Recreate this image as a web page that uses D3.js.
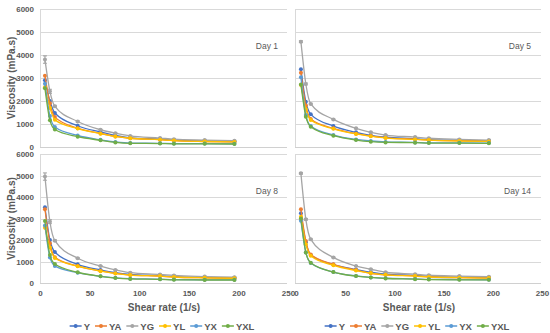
<!DOCTYPE html>
<html>
<head>
<meta charset="utf-8">
<script src="https://cdnjs.cloudflare.com/ajax/libs/d3/7.8.5/d3.min.js"></script>
<style>
  body { margin: 0; background: #fff; }
  svg { display: block; font-family: "Liberation Sans", Arial, sans-serif; }
</style>
</head>
<body>
<div class="container"></div>
<script>
// shear rate (1/s) of each measurement
const shearRates = [5, 10, 15, 38, 61, 76, 91, 121, 135, 166, 196];
const seriesNames = ['Y', 'YA', 'YG', 'YL', 'YX', 'YXL'];
const seriesColors = ['#4472C4', '#ED7D31', '#A5A5A5', '#FFC000', '#5B9BD5', '#70AD47'];
const dayLabels = ['Day 1', 'Day 5', 'Day 8', 'Day 14'];
const yTicks = [0, 1000, 2000, 3000, 4000, 5000, 6000];
const xTicks = [0, 50, 100, 150, 200, 250];

// viscosity (mPa.s), one row per series in seriesNames order
const day1 = [
  [2900, 2000, 1480, 925, 650, 500, 400, 340, 300, 260, 240],
  [3100, 1900, 1300, 820, 590, 460, 380, 320, 280, 240, 220],
  [3800, 2420, 1770, 1110, 750, 600, 480, 390, 340, 300, 270],
  [2600, 1700, 1180, 800, 580, 460, 380, 320, 280, 240, 220],
  [2750, 1350, 870, 500, 310, 220, 170, 160, 150, 150, 140],
  [2550, 1160, 760, 450, 290, 200, 160, 150, 140, 140, 130]
];
const day5 = [
  [3380, 1970, 1420, 910, 640, 510, 430, 360, 320, 290, 270],
  [3230, 1800, 1220, 810, 580, 480, 400, 340, 300, 270, 250],
  [4580, 2740, 1870, 1200, 810, 640, 520, 430, 380, 330, 300],
  [2700, 1650, 1170, 790, 570, 470, 390, 330, 300, 260, 240],
  [3030, 1390, 910, 520, 330, 260, 220, 200, 180, 180, 170],
  [2720, 1320, 880, 490, 300, 230, 200, 190, 170, 170, 160]
];
const day8 = [
  [3520, 2000, 1440, 870, 610, 480, 400, 340, 300, 260, 240],
  [3430, 1850, 1200, 790, 560, 450, 370, 320, 280, 240, 220],
  [4950, 2850, 1970, 1150, 790, 610, 480, 400, 350, 300, 270],
  [2570, 1650, 1160, 780, 550, 440, 370, 320, 280, 240, 220],
  [2680, 1190, 790, 480, 310, 240, 200, 180, 160, 150, 150],
  [2880, 1300, 880, 500, 310, 230, 190, 170, 150, 140, 140]
];
const day14 = [
  [3240, 1900, 1300, 860, 630, 500, 410, 350, 310, 270, 250],
  [3430, 1950, 1330, 870, 600, 450, 380, 330, 290, 250, 230],
  [5100, 2960, 2030, 1190, 790, 640, 500, 410, 360, 320, 290],
  [3080, 1800, 1270, 820, 580, 460, 380, 320, 280, 250, 230],
  [2900, 1420, 930, 510, 330, 260, 220, 190, 170, 160, 150],
  [3000, 1420, 940, 510, 320, 260, 210, 180, 160, 150, 150]
];
// error bar half-heights for the YG series (first points only visible)
const ygError1 = [160, 90, 40, 30, 20, 20, 20, 20, 20, 20, 20];
const ygError5 = [40, 40, 30, 20, 20, 20, 20, 20, 20, 20, 20];
const ygError8 = [170, 90, 40, 30, 20, 20, 20, 20, 20, 20, 20];
const ygError14 = [40, 40, 30, 20, 20, 20, 20, 20, 20, 20, 20];

const width = 550;
const height = 333;

const panels = [
  { data: day1, err: ygError1, label: dayLabels[0], x0: 40, x1: 288, gx0: 40, gx1: 287, top: 9, bottom: 147, yLabels: true, xLabels: false },
  { data: day5, err: ygError5, label: dayLabels[1], x0: 296, x1: 542, gx0: 295, gx1: 541, top: 9, bottom: 147, yLabels: false, xLabels: false },
  { data: day8, err: ygError8, label: dayLabels[2], x0: 40, x1: 288, gx0: 40, gx1: 287, top: 154, bottom: 283, yLabels: true, xLabels: true },
  { data: day14, err: ygError14, label: dayLabels[3], x0: 296, x1: 542, gx0: 295, gx1: 541, top: 154, bottom: 283, yLabels: false, xLabels: true }
];

const svg = d3.select('.container')
  .append('svg')
  .attr('width', width)
  .attr('height', height);

svg.append('rect')
  .attr('width', width)
  .attr('height', height)
  .attr('fill', '#fff');

panels.forEach(p => {
  const xScale = d3.scaleLinear().domain([0, 250]).range([p.x0, p.x1]);
  const yScale = d3.scaleLinear().domain([0, 6000]).range([p.bottom, p.top]);

  const g = svg.append('g');

  // grid lines
  g.selectAll('line.grid')
    .data(yTicks.slice(1))
    .enter()
    .append('line')
    .attr('class', 'grid')
    .attr('x1', p.gx0)
    .attr('x2', p.gx1)
    .attr('y1', d => Math.round(yScale(d)) + 0.5)
    .attr('y2', d => Math.round(yScale(d)) + 0.5)
    .attr('stroke', '#d9d9d9')
    .attr('stroke-width', 1);

  // axis lines
  g.append('line')
    .attr('x1', p.gx0).attr('x2', p.gx1)
    .attr('y1', Math.round(p.bottom) + 0.5).attr('y2', Math.round(p.bottom) + 0.5)
    .attr('stroke', '#d0d0d0');
  g.append('line')
    .attr('x1', p.gx0 + 0.5).attr('x2', p.gx0 + 0.5)
    .attr('y1', p.top).attr('y2', p.bottom)
    .attr('stroke', '#d9d9d9');

  if (p.yLabels) {
    const yAxis = d3.axisLeft(yScale).tickValues(yTicks).tickFormat(d3.format('d')).tickSize(0).tickPadding(6);
    const ya = g.append('g')
      .attr('transform', `translate(${p.x0},0)`)
      .call(yAxis);
    ya.select('.domain').remove();
    ya.selectAll('text')
      .attr('fill', '#595959')
      .style('font-size', '8px')
      .style('font-weight', 'bold')
      .style('font-family', '"Liberation Sans", Arial, sans-serif');

    g.append('text')
      .attr('transform', `translate(15, ${(p.top + p.bottom) / 2}) rotate(-90)`)
      .attr('text-anchor', 'middle')
      .attr('fill', '#595959')
      .style('font-size', '10px')
      .style('font-weight', 'bold')
      .text('Viscosity (mPa.s)');
  }

  if (p.xLabels) {
    const xAxis = d3.axisBottom(xScale).tickValues(xTicks).tickSize(0).tickPadding(7);
    const xa = g.append('g')
      .attr('transform', `translate(0, ${p.bottom})`)
      .call(xAxis);
    xa.select('.domain').remove();
    xa.selectAll('text')
      .attr('fill', '#595959')
      .style('font-size', '8px')
      .style('font-weight', 'bold')
      .style('font-family', '"Liberation Sans", Arial, sans-serif');

    g.append('text')
      .attr('x', (p.x0 + p.x1) / 2)
      .attr('y', 311)
      .attr('text-anchor', 'middle')
      .attr('fill', '#595959')
      .style('font-size', '10px')
      .style('font-weight', 'bold')
      .text('Shear rate (1/s)');

    // legend
    const legend = g.append('g');
    let cx = 0;
    seriesNames.forEach((name, i) => {
      const item = legend.append('g').attr('transform', `translate(${cx}, 0)`);
      item.append('line')
        .attr('x1', 0).attr('x2', 12)
        .attr('y1', 0).attr('y2', 0)
        .attr('stroke', seriesColors[i])
        .attr('stroke-width', 1.5);
      item.append('circle')
        .attr('cx', 6).attr('cy', 0).attr('r', 2)
        .attr('fill', seriesColors[i]);
      const t = item.append('text')
        .attr('x', 14)
        .attr('y', 3.5)
        .attr('fill', '#595959')
        .style('font-size', '9.5px')
        .style('font-weight', 'bold')
        .text(name);
      cx += 14 + t.node().getComputedTextLength() + 5;
    });
    const legendW = cx - 5;
    legend.attr('transform', `translate(${(p.x0 + p.x1) / 2 - legendW / 2 - 2}, 326)`);
  }

  // day label
  g.append('text')
    .attr('x', p.x0 < 100 ? 278 : 531)
    .attr('y', p.top + 40)
    .attr('text-anchor', 'end')
    .attr('fill', '#595959')
    .style('font-size', '8.5px')
    .text(p.label);

  const line = d3.line()
    .x((d, i) => xScale(shearRates[i]))
    .y(d => yScale(d))
    .curve(d3.curveMonotoneX);

  p.data.forEach((values, s) => {
    const color = seriesColors[s];
    const sg = g.append('g');

    if (s === 2) {
      sg.selectAll('path.err')
        .data(values)
        .enter()
        .append('path')
        .attr('class', 'err')
        .attr('d', (d, i) => {
          const x = xScale(shearRates[i]);
          const y1 = yScale(d + p.err[i]);
          const y2 = yScale(d - p.err[i]);
          return `M${x},${y1}V${y2}M${x - 2},${y1}H${x + 2}M${x - 2},${y2}H${x + 2}`;
        })
        .attr('stroke', '#8c8c8c')
        .attr('stroke-width', 0.8)
        .attr('fill', 'none');
    }

    sg.append('path')
      .datum(values)
      .attr('d', line)
      .attr('fill', 'none')
      .attr('stroke', color)
      .attr('stroke-width', 1.3);

    sg.selectAll('circle')
      .data(values)
      .enter()
      .append('circle')
      .attr('cx', (d, i) => xScale(shearRates[i]))
      .attr('cy', d => yScale(d))
      .attr('r', 2)
      .attr('fill', color);
  });
});
</script>
</body>
</html>
